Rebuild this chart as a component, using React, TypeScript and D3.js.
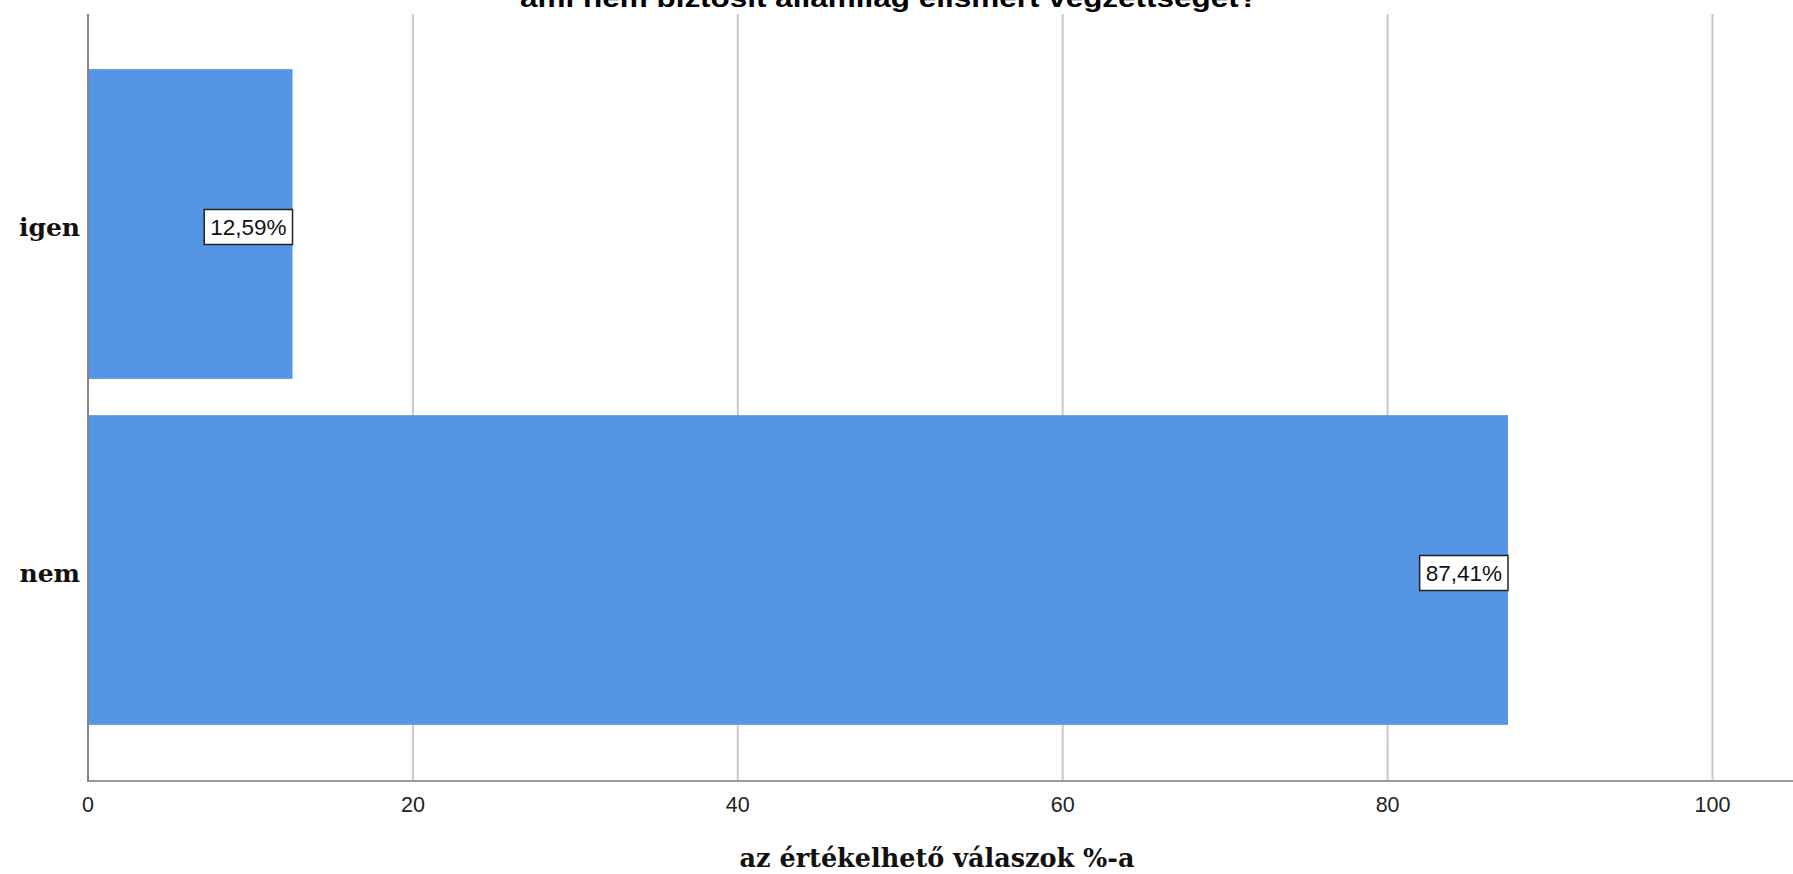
import React, { useEffect, useRef } from "react";
import * as d3 from "d3";

const categories: string[] = ["igen", "nem"];
const percentValues: number[] = [12.59, 87.41];
const valueLabels: string[] = ["12,59%", "87,41%"];
const xTicks: number[] = [0, 20, 40, 60, 80, 100];
const titleText = "ami nem biztosít államilag elismert végzettséget?";
const xAxisTitle = "az értékelhető válaszok %-a";

const W = 1793;
const H = 874;

export default function App() {
  const ref = useRef<SVGSVGElement | null>(null);

  useEffect(() => {
    const svg = d3.select(ref.current);
    svg.selectAll("*").remove();

    const x = d3.scaleLinear().domain([0, 100]).range([88, 1712.5]);
    const y = d3
      .scaleBand<string>()
      .domain(categories)
      .range([51, 743])
      .paddingInner(0.105)
      .paddingOuter(0.0525);

    const plotTop = 14;
    const plotBottom = 781;
    const labelShift = 3;

    // title (partially cut at the top, as in the reference)
    svg
      .append("text")
      .attr("x", 889)
      .attr("y", 7)
      .attr("text-anchor", "middle")
      .attr("font-family", "'Liberation Sans', Arial, sans-serif")
      .attr("font-weight", "bold")
      .attr("font-size", 26)
      .attr("textLength", 738)
      .attr("lengthAdjust", "spacingAndGlyphs")
      .attr("fill", "#000")
      .text(titleText);

    // gridlines
    svg
      .append("g")
      .selectAll("line")
      .data(xTicks.filter((t) => t !== 0))
      .join("line")
      .attr("x1", (d) => x(d))
      .attr("x2", (d) => x(d))
      .attr("y1", plotTop)
      .attr("y2", plotBottom)
      .attr("stroke", "#c8c8c8")
      .attr("stroke-width", 2);

    // bars
    svg
      .append("g")
      .selectAll("rect")
      .data(categories)
      .join("rect")
      .attr("x", x(0))
      .attr("y", (d) => y(d) as number)
      .attr("width", (d, i) => x(percentValues[i]) - x(0))
      .attr("height", y.bandwidth())
      .attr("fill", "#5596e4");

    // axes lines
    svg
      .append("line")
      .attr("x1", x(0))
      .attr("x2", W)
      .attr("y1", plotBottom)
      .attr("y2", plotBottom)
      .attr("stroke", "#9a9a9a")
      .attr("stroke-width", 2);
    svg
      .append("line")
      .attr("x1", x(0))
      .attr("x2", x(0))
      .attr("y1", plotTop)
      .attr("y2", plotBottom + 1)
      .attr("stroke", "#858585")
      .attr("stroke-width", 2);

    // x tick labels
    svg
      .append("g")
      .selectAll("text")
      .data(xTicks)
      .join("text")
      .attr("x", (d) => x(d))
      .attr("y", 812)
      .attr("text-anchor", "middle")
      .attr("font-family", "'Liberation Sans', Arial, sans-serif")
      .attr("font-size", 21.5)
      .attr("fill", "#222")
      .text((d) => String(d));

    // category labels
    svg
      .append("g")
      .selectAll("text")
      .data(categories)
      .join("text")
      .attr("x", 80)
      .attr("y", (d) => (y(d) as number) + y.bandwidth() / 2 + labelShift)
      .attr("dy", "0.35em")
      .attr("text-anchor", "end")
      .attr("font-family", "'DejaVu Serif', serif")
      .attr("font-weight", "bold")
      .attr("font-size", 25)
      .attr("fill", "#111")
      .text((d) => d);

    // value labels with boxes
    const lg = svg
      .append("g")
      .selectAll("g")
      .data(categories)
      .join("g");
    lg.each(function (d, i) {
      const g = d3.select(this);
      const cx = x(percentValues[i]);
      const cy = (y(d) as number) + y.bandwidth() / 2 + labelShift;
      const rect = g.append("rect");
      const t = g
        .append("text")
        .attr("x", cx - 44)
        .attr("y", cy)
        .attr("dy", "0.36em")
        .attr("text-anchor", "middle")
        .attr("font-family", "'Liberation Sans', Arial, sans-serif")
        .attr("font-size", 22.5)
        .attr("fill", "#111")
        .text(valueLabels[i]);
      const bb = (t.node() as SVGTextElement).getBBox();
      const bw = bb.width + 12;
      const bh = 35;
      rect
        .attr("x", cx - bw)
        .attr("y", cy - bh / 2)
        .attr("width", bw)
        .attr("height", bh)
        .attr("fill", "#fff")
        .attr("stroke", "#222")
        .attr("stroke-width", 1.5);
      t.attr("x", cx - bw / 2);
    });

    // x axis title
    svg
      .append("text")
      .attr("x", 937)
      .attr("y", 867)
      .attr("text-anchor", "middle")
      .attr("font-family", "'DejaVu Serif', serif")
      .attr("font-weight", "bold")
      .attr("font-size", 25.5)
      .attr("fill", "#111")
      .text(xAxisTitle);
  }, []);

  return (
    <svg
      ref={ref}
      width={W}
      height={H}
      style={{ position: "absolute", left: 0, top: 0, background: "#fff" }}
    />
  );
}
